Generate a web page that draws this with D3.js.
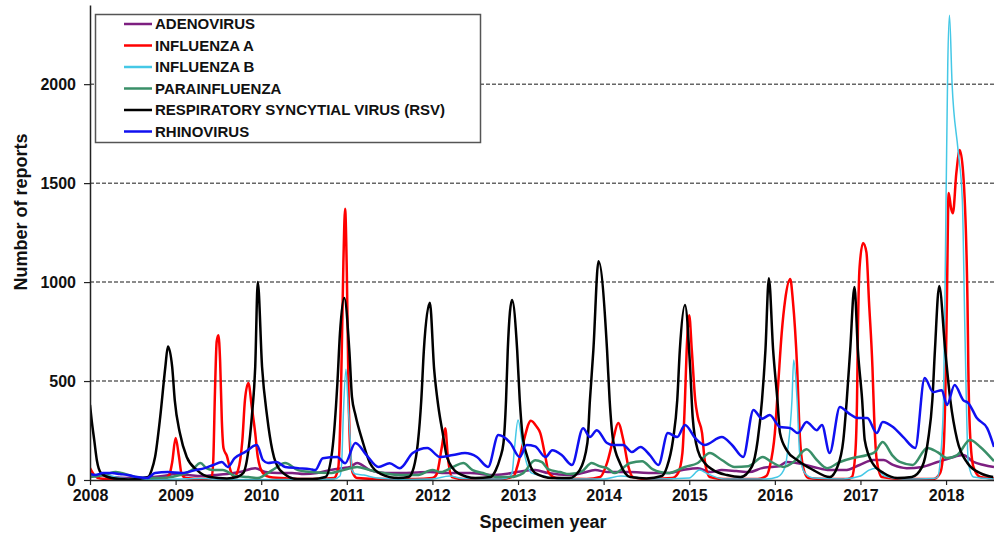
<!DOCTYPE html>
<html>
<head>
<meta charset="utf-8">
<script src="https://cdn.jsdelivr.net/npm/d3@7"></script>
<style>
  body { margin: 0; background: #fff; }
  text { font-family: "Liberation Sans", Arial, sans-serif; font-weight: bold; fill: #111; }
</style>
</head>
<body>
<div id="container"></div>
<script>

// weekly report counts as [decimal year, reports]
var adenovirus = [[2008.0,20],[2008.1,25],[2008.25,15],[2008.45,10],[2008.65,12],[2008.85,20],[2009.0,30],[2009.15,25],[2009.3,20],[2009.45,25],[2009.6,30],[2009.75,40],[2009.93,60],[2010.05,40],[2010.2,35],[2010.36,35],[2010.5,30],[2010.65,35],[2010.8,50],[2010.95,60],[2011.04,66],[2011.12,86],[2011.27,50],[2011.45,35],[2011.65,35],[2011.82,38],[2011.97,40],[2012.15,35],[2012.44,35],[2012.7,25],[2012.85,30],[2012.99,40],[2013.2,50],[2013.35,35],[2013.6,25],[2013.75,35],[2013.9,50],[2014.05,40],[2014.3,40],[2014.55,35],[2014.75,35],[2014.92,50],[2015.1,60],[2015.25,40],[2015.38,50],[2015.55,45],[2015.7,40],[2015.85,60],[2015.95,66],[2016.05,70],[2016.14,91],[2016.25,86],[2016.45,66],[2016.64,50],[2016.82,50],[2016.99,76],[2017.15,101],[2017.27,101],[2017.38,76],[2017.54,60],[2017.72,66],[2017.9,91],[2018.05,111],[2018.2,126],[2018.32,91],[2018.44,76],[2018.56,66]];

var influenzaA = [[2008.0,60],[2008.05,25],[2008.12,8],[2008.3,5],[2008.5,3],[2008.7,5],[2008.88,8],[2008.93,30],[2008.96,90],[2009.0,212],[2009.04,116],[2009.07,30],[2009.12,10],[2009.3,5],[2009.42,10],[2009.44,100],[2009.46,450],[2009.48,700],[2009.5,732],[2009.52,600],[2009.54,300],[2009.56,160],[2009.6,120],[2009.64,50],[2009.68,15],[2009.73,50],[2009.78,202],[2009.81,404],[2009.85,490],[2009.89,369],[2009.93,237],[2009.96,116],[2010.02,35],[2010.1,15],[2010.3,8],[2010.6,5],[2010.85,10],[2010.9,60],[2010.93,400],[2010.96,1100],[2010.98,1370],[2011.0,1050],[2011.02,450],[2011.04,150],[2011.07,35],[2011.12,10],[2011.4,5],[2011.8,5],[2012.0,10],[2012.05,30],[2012.11,167],[2012.15,262],[2012.18,116],[2012.23,15],[2012.35,5],[2012.8,5],[2012.95,20],[2012.99,66],[2013.06,187],[2013.15,300],[2013.22,268],[2013.26,237],[2013.32,116],[2013.36,35],[2013.45,10],[2013.8,5],[2013.96,15],[2014.04,86],[2014.11,202],[2014.17,288],[2014.23,202],[2014.29,66],[2014.34,15],[2014.5,5],[2014.8,10],[2014.87,35],[2014.92,136],[2014.95,404],[2014.97,656],[2015.0,833],[2015.03,656],[2015.07,404],[2015.1,318],[2015.15,237],[2015.18,101],[2015.24,15],[2015.4,5],[2015.8,5],[2015.9,20],[2015.94,66],[2016.0,237],[2016.04,490],[2016.08,742],[2016.12,909],[2016.18,1015],[2016.21,909],[2016.26,571],[2016.29,237],[2016.33,66],[2016.39,10],[2016.6,5],[2016.85,5],[2016.9,15],[2016.94,136],[2016.96,404],[2016.97,742],[2016.99,1076],[2017.03,1197],[2017.07,1150],[2017.1,900],[2017.14,571],[2017.16,318],[2017.19,101],[2017.25,15],[2017.5,5],[2017.85,5],[2017.93,35],[2017.97,150],[2017.99,404],[2018.01,909],[2018.03,1450],[2018.06,1370],[2018.08,1348],[2018.12,1550],[2018.16,1667],[2018.2,1550],[2018.25,909],[2018.26,571],[2018.28,237],[2018.32,66],[2018.4,15],[2018.56,8]];

var influenzaB = [[2008.0,20],[2008.1,30],[2008.2,25],[2008.35,10],[2008.6,3],[2009.0,5],[2009.3,8],[2009.6,3],[2010.0,3],[2010.5,3],[2010.85,5],[2010.92,20],[2010.94,86],[2010.96,338],[2010.99,560],[2011.01,419],[2011.04,202],[2011.06,50],[2011.1,30],[2011.2,25],[2011.35,10],[2011.7,3],[2012.0,5],[2012.2,20],[2012.35,8],[2012.8,5],[2012.9,15],[2012.93,35],[2012.96,167],[2013.0,303],[2013.05,187],[2013.1,86],[2013.16,35],[2013.3,20],[2013.5,5],[2014.0,5],[2014.2,20],[2014.35,15],[2014.6,5],[2015.0,10],[2015.12,50],[2015.22,30],[2015.4,5],[2015.9,5],[2016.03,15],[2016.12,66],[2016.15,150],[2016.2,404],[2016.22,606],[2016.26,404],[2016.29,136],[2016.35,35],[2016.45,10],[2016.8,5],[2017.0,20],[2017.1,50],[2017.18,60],[2017.28,20],[2017.5,5],[2017.85,8],[2017.9,15],[2017.93,86],[2017.97,400],[2018.0,1414],[2018.02,2100],[2018.04,2348],[2018.07,2005],[2018.14,1667],[2018.19,1414],[2018.22,758],[2018.26,86],[2018.32,15],[2018.56,5]];

var parainfluenza = [[2008.0,15],[2008.1,20],[2008.2,30],[2008.3,40],[2008.37,35],[2008.53,15],[2008.7,10],[2008.9,12],[2009.05,25],[2009.19,50],[2009.29,86],[2009.36,60],[2009.43,50],[2009.55,50],[2009.7,20],[2009.85,15],[2009.96,10],[2010.13,50],[2010.28,86],[2010.43,50],[2010.59,40],[2010.8,35],[2010.96,50],[2011.12,66],[2011.27,50],[2011.42,35],[2011.62,25],[2011.82,25],[2012.0,50],[2012.1,40],[2012.24,66],[2012.36,86],[2012.47,50],[2012.59,35],[2012.75,15],[2012.91,15],[2013.06,35],[2013.2,100],[2013.28,90],[2013.35,55],[2013.49,40],[2013.6,30],[2013.75,45],[2013.86,86],[2013.95,70],[2014.04,60],[2014.13,35],[2014.31,86],[2014.45,95],[2014.57,55],[2014.75,35],[2014.95,66],[2015.1,86],[2015.24,136],[2015.38,101],[2015.53,66],[2015.69,70],[2015.86,116],[2015.96,91],[2016.1,66],[2016.22,91],[2016.37,155],[2016.49,101],[2016.61,60],[2016.76,91],[2016.91,111],[2017.08,126],[2017.17,141],[2017.26,192],[2017.37,126],[2017.46,91],[2017.61,76],[2017.78,162],[2017.9,141],[2018.01,111],[2018.13,126],[2018.28,202],[2018.4,167],[2018.56,95]];

var rsv = [[2008.0,380],[2008.02,300],[2008.05,200],[2008.08,100],[2008.13,35],[2008.25,10],[2008.45,3],[2008.6,8],[2008.68,15],[2008.72,50],[2008.76,116],[2008.82,318],[2008.88,571],[2008.91,675],[2008.96,571],[2008.99,404],[2009.05,237],[2009.13,116],[2009.25,50],[2009.4,15],[2009.6,8],[2009.72,15],[2009.79,35],[2009.85,150],[2009.89,318],[2009.93,571],[2009.96,1000],[2010.01,571],[2010.07,318],[2010.13,150],[2010.22,50],[2010.42,5],[2010.6,5],[2010.75,15],[2010.83,150],[2010.89,490],[2010.92,742],[2010.97,920],[2011.03,650],[2011.06,420],[2011.1,330],[2011.18,202],[2011.27,86],[2011.4,30],[2011.6,10],[2011.72,15],[2011.78,60],[2011.83,187],[2011.87,404],[2011.9,656],[2011.97,895],[2012.02,560],[2012.07,369],[2012.12,237],[2012.17,116],[2012.3,35],[2012.5,10],[2012.68,15],[2012.74,50],[2012.79,110],[2012.83,187],[2012.86,404],[2012.88,656],[2012.93,910],[2012.99,656],[2013.02,404],[2013.05,237],[2013.11,116],[2013.2,35],[2013.4,10],[2013.6,10],[2013.72,50],[2013.81,187],[2013.84,404],[2013.88,656],[2013.94,1105],[2014.04,656],[2014.07,404],[2014.11,202],[2014.19,86],[2014.31,15],[2014.5,8],[2014.68,20],[2014.74,66],[2014.81,202],[2014.86,404],[2014.89,656],[2014.95,884],[2015.01,571],[2015.04,318],[2015.1,150],[2015.18,86],[2015.28,50],[2015.44,25],[2015.6,15],[2015.73,66],[2015.8,202],[2015.85,404],[2015.89,656],[2015.93,1020],[2015.98,656],[2016.03,404],[2016.06,237],[2016.14,150],[2016.26,101],[2016.45,50],[2016.64,15],[2016.73,66],[2016.8,202],[2016.84,404],[2016.88,656],[2016.93,975],[2016.97,656],[2017.02,404],[2017.05,202],[2017.14,86],[2017.27,35],[2017.43,10],[2017.6,15],[2017.72,66],[2017.79,202],[2017.84,404],[2017.87,656],[2017.92,980],[2017.99,656],[2018.05,404],[2018.13,202],[2018.25,86],[2018.4,35],[2018.55,15]];

var rhinovirus = [[2008.0,30],[2008.06,25],[2008.15,35],[2008.26,35],[2008.35,30],[2008.44,25],[2008.55,15],[2008.67,10],[2008.76,35],[2008.91,40],[2009.07,35],[2009.23,50],[2009.34,60],[2009.44,76],[2009.54,91],[2009.61,66],[2009.69,111],[2009.81,141],[2009.95,177],[2010.02,101],[2010.08,86],[2010.18,91],[2010.28,66],[2010.43,60],[2010.57,55],[2010.63,50],[2010.72,110],[2010.89,116],[2010.98,85],[2011.1,187],[2011.23,126],[2011.37,66],[2011.5,85],[2011.62,60],[2011.77,136],[2011.94,162],[2012.09,116],[2012.24,126],[2012.38,136],[2012.52,116],[2012.65,66],[2012.77,227],[2012.91,187],[2013.02,116],[2013.1,177],[2013.2,170],[2013.32,116],[2013.4,150],[2013.51,126],[2013.63,76],[2013.76,262],[2013.84,217],[2013.92,252],[2014.04,187],[2014.11,177],[2014.23,177],[2014.33,141],[2014.43,167],[2014.54,126],[2014.64,76],[2014.75,237],[2014.86,217],[2014.95,278],[2015.07,212],[2015.18,177],[2015.38,217],[2015.5,177],[2015.63,116],[2015.75,354],[2015.85,310],[2015.94,328],[2016.06,268],[2016.18,262],[2016.27,237],[2016.37,293],[2016.49,252],[2016.55,278],[2016.64,136],[2016.76,369],[2016.86,338],[2016.97,313],[2017.08,313],[2017.19,237],[2017.26,293],[2017.38,268],[2017.5,217],[2017.64,162],[2017.75,515],[2017.85,444],[2017.95,454],[2018.01,379],[2018.1,480],[2018.2,404],[2018.26,389],[2018.36,313],[2018.48,262],[2018.56,167]];

var seriesNames = ["ADENOVIRUS", "INFLUENZA A", "INFLUENZA B", "PARAINFLUENZA", "RESPIRATORY SYNCYTIAL VIRUS (RSV)", "RHINOVIRUS"];
var seriesData = [adenovirus, influenzaA, influenzaB, parainfluenza, rsv, rhinovirus];
var seriesColors = ["#7d1f80", "#ff0000", "#45c8e6", "#3a8f68", "#000000", "#1010f0"];
var seriesWidths = [2.5, 2.5, 1.5, 2.5, 2.5, 2.5];

var yearTicks = [2008, 2009, 2010, 2011, 2012, 2013, 2014, 2015, 2016, 2017, 2018];
var reportTicks = [0, 500, 1000, 1500, 2000];
var gridValues = [500, 1000, 1500, 2000];

var W = 994, H = 535;
var margin = { top: 5, right: 0, bottom: 55, left: 90 };

var svg = d3.select("#container").append("svg")
    .attr("width", W)
    .attr("height", H);

var x = d3.scaleLinear().domain([2008, 2018.56]).range([margin.left, W - margin.right]);
var y = d3.scaleLinear().domain([0, 2400]).range([H - margin.bottom, margin.top]);

// dashed horizontal grid
svg.append("g")
    .selectAll("line")
    .data(gridValues)
    .join("line")
    .attr("x1", margin.left)
    .attr("x2", W)
    .attr("y1", function (d) { return y(d); })
    .attr("y2", function (d) { return y(d); })
    .attr("stroke", "#666")
    .attr("stroke-width", 1.5)
    .attr("stroke-dasharray", "4,2");

svg.append("clipPath").attr("id", "plot-clip")
    .append("rect")
    .attr("x", margin.left)
    .attr("y", 0)
    .attr("width", W - margin.left)
    .attr("height", H - margin.bottom);

var line = d3.line()
    .x(function (d) { return x(d[0]); })
    .y(function (d) { return y(d[1]); })
    .curve(d3.curveMonotoneX);

var plot = svg.append("g").attr("clip-path", "url(#plot-clip)");

for (var i = 0; i < seriesData.length; i++)
{
    plot.append("path")
        .datum(seriesData[i])
        .attr("fill", "none")
        .attr("stroke", seriesColors[i])
        .attr("stroke-width", seriesWidths[i])
        .attr("stroke-linejoin", "round")
        .attr("d", line);
}

// axes
var xAxis = svg.append("g")
    .attr("transform", "translate(0," + y(0) + ")")
    .call(d3.axisBottom(x).tickValues(yearTicks).tickFormat(d3.format("d")).tickSize(5).tickSizeOuter(0));

var yAxis = svg.append("g")
    .attr("transform", "translate(" + margin.left + ",0)")
    .call(d3.axisLeft(y).tickValues(reportTicks).tickFormat(d3.format("d")).tickSize(6).tickSizeOuter(0));

[xAxis, yAxis].forEach(function (a)
{
    a.select(".domain").attr("stroke", "#222").attr("stroke-width", 1.5);
    a.selectAll(".tick line").attr("stroke", "#222").attr("stroke-width", 1.2);
    a.selectAll("text")
        .style("font-family", "'Liberation Sans', Arial, sans-serif")
        .style("font-weight", "bold")
        .style("font-size", "16px")
        .attr("fill", "#111");
});
xAxis.selectAll("text").attr("dy", "0.72em").attr("y", 9);
yAxis.selectAll("text").attr("x", -14);

svg.append("text")
    .attr("transform", "translate(27," + 212 + ") rotate(-90)")
    .attr("text-anchor", "middle")
    .style("font-size", "18px")
    .text("Number of reports");

svg.append("text")
    .attr("x", 543)
    .attr("y", 528)
    .attr("text-anchor", "middle")
    .style("font-size", "18px")
    .text("Specimen year");

// legend
var legend = svg.append("g");
legend.append("rect")
    .attr("x", 95.5)
    .attr("y", 14.5)
    .attr("width", 385)
    .attr("height", 128)
    .attr("fill", "#fff")
    .attr("stroke", "#555")
    .attr("stroke-width", 1.5);

var rows = legend.selectAll("g.row")
    .data(seriesNames)
    .join("g")
    .attr("class", "row")
    .attr("transform", function (d, k) { return "translate(0," + (24 + k * 21.5) + ")"; });

rows.append("line")
    .attr("x1", 124)
    .attr("x2", 152)
    .attr("stroke", function (d, k) { return seriesColors[k]; })
    .attr("stroke-width", 2.5);

rows.append("text")
    .attr("x", 155)
    .attr("dy", "0.36em")
    .style("font-size", "15px")
    .text(function (d) { return d; });

</script>
</body>
</html>
